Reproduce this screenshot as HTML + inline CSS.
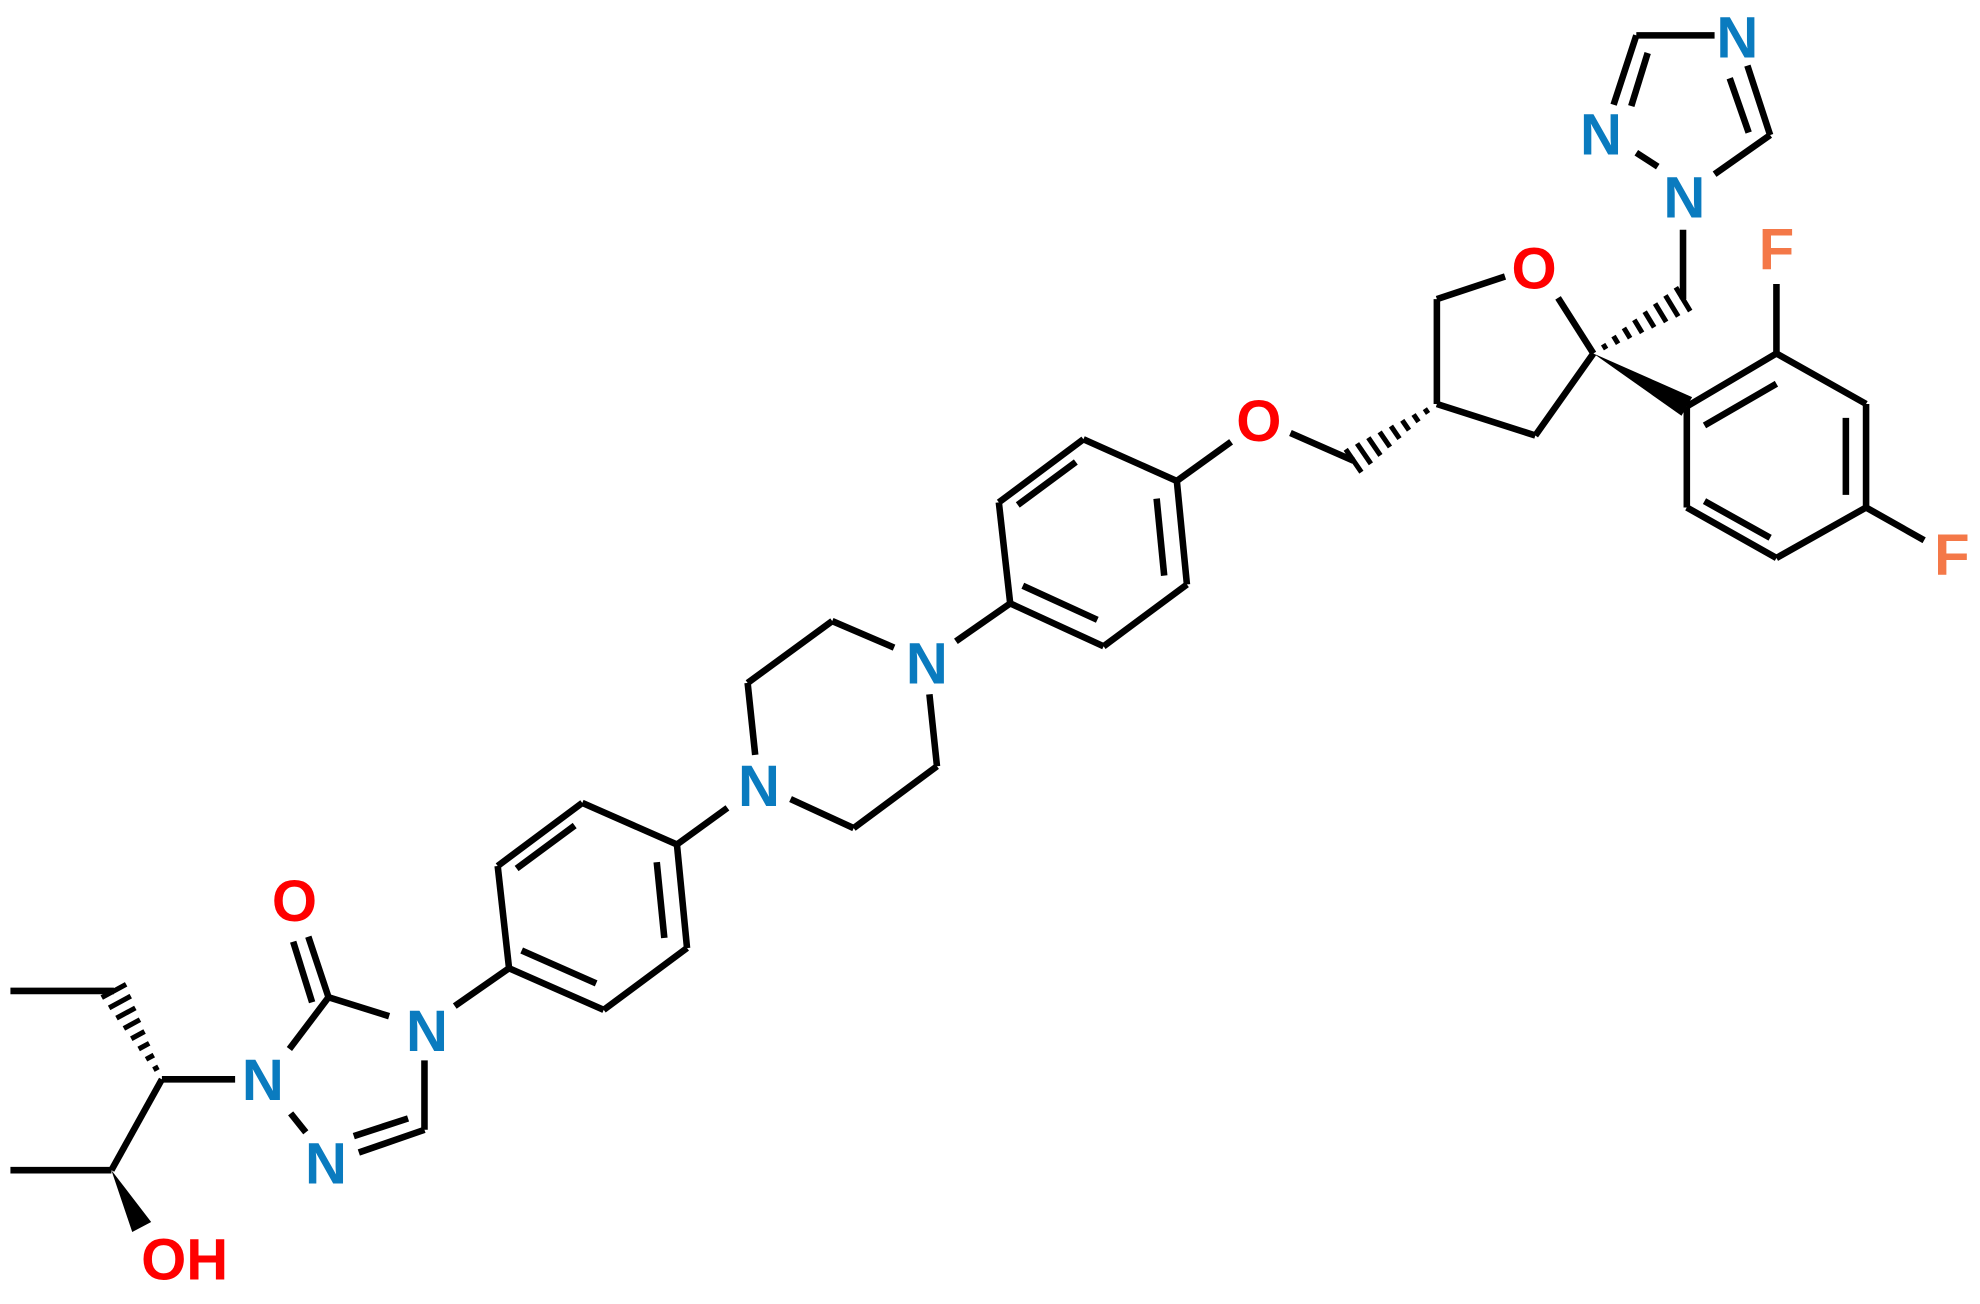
<!DOCTYPE html>
<html><head><meta charset="utf-8"><style>
html,body{margin:0;padding:0;background:#fff;}
svg{display:block;}
text{font-family:"Liberation Sans",sans-serif;font-weight:bold;font-size:46px;text-anchor:middle;dominant-baseline:central;}
.N{fill:#0a7bbf}.O{fill:#f00}.F{fill:#f47848}
</style></head><body>
<svg width="1980" height="1304" viewBox="0 0 1568 1033" xmlns="http://www.w3.org/2000/svg">
<g stroke="#000" stroke-width="5.2" fill="none">
<line x1="1296" y1="28" x2="1358" y2="28"/>
<line x1="1384" y1="52" x2="1402" y2="107"/>
<line x1="1370" y1="62" x2="1385" y2="105"/>
<line x1="1402" y1="107" x2="1358" y2="138"/>
<line x1="1313" y1="132" x2="1296" y2="121"/>
<line x1="1296" y1="28" x2="1278" y2="83"/>
<line x1="1305" y1="42" x2="1292" y2="84"/>
<line x1="1333" y1="182" x2="1333" y2="237"/>
<line x1="1138" y1="237" x2="1192" y2="219"/>
<line x1="1234" y1="236" x2="1262" y2="280"/>
<line x1="1262" y1="280" x2="1216" y2="345"/>
<line x1="1216" y1="345" x2="1138" y2="320"/>
<line x1="1138" y1="320" x2="1138" y2="237"/>
<line x1="1336" y1="322" x2="1407" y2="280"/>
<line x1="1350" y1="337" x2="1407" y2="304"/>
<line x1="1407" y1="280" x2="1478" y2="320"/>
<line x1="1478" y1="320" x2="1478" y2="402"/>
<line x1="1462" y1="331" x2="1462" y2="392"/>
<line x1="1478" y1="402" x2="1407" y2="442"/>
<line x1="1407" y1="442" x2="1336" y2="402"/>
<line x1="1402" y1="426" x2="1350" y2="397"/>
<line x1="1336" y1="402" x2="1336" y2="322"/>
<line x1="1407" y1="280" x2="1407" y2="225"/>
<line x1="1478" y1="402" x2="1524" y2="428"/>
<line x1="1072" y1="365" x2="1022" y2="343"/>
<line x1="975" y1="350" x2="932" y2="381"/>
<line x1="932" y1="381" x2="858" y2="348"/>
<line x1="858" y1="348" x2="791" y2="398"/>
<line x1="852" y1="366" x2="806" y2="400"/>
<line x1="791" y1="398" x2="800" y2="478"/>
<line x1="800" y1="478" x2="874" y2="512"/>
<line x1="810" y1="464" x2="869" y2="491"/>
<line x1="874" y1="512" x2="940" y2="463"/>
<line x1="940" y1="463" x2="932" y2="381"/>
<line x1="922" y1="456" x2="916" y2="395"/>
<line x1="800" y1="478" x2="757" y2="508"/>
<line x1="708" y1="513" x2="659" y2="492"/>
<line x1="659" y1="492" x2="592" y2="541"/>
<line x1="592" y1="541" x2="598" y2="598"/>
<line x1="626" y1="633" x2="676" y2="656"/>
<line x1="676" y1="656" x2="742" y2="607"/>
<line x1="742" y1="607" x2="736" y2="550"/>
<line x1="576" y1="640" x2="536" y2="669"/>
<line x1="536" y1="669" x2="461" y2="636"/>
<line x1="461" y1="636" x2="394" y2="686"/>
<line x1="455" y1="654" x2="409" y2="688"/>
<line x1="394" y1="686" x2="403" y2="767"/>
<line x1="403" y1="767" x2="478" y2="800"/>
<line x1="413" y1="753" x2="472" y2="779"/>
<line x1="478" y1="800" x2="544" y2="751"/>
<line x1="544" y1="751" x2="536" y2="669"/>
<line x1="526" y1="743" x2="520" y2="683"/>
<line x1="403" y1="767" x2="360" y2="797"/>
<line x1="308" y1="805" x2="260" y2="790"/>
<line x1="260" y1="790" x2="244" y2="742"/>
<line x1="247" y1="794" x2="232" y2="746"/>
<line x1="260" y1="790" x2="229" y2="831"/>
<line x1="230" y1="882" x2="242" y2="897"/>
<line x1="284" y1="913" x2="336" y2="895"/>
<line x1="280" y1="900" x2="323" y2="886"/>
<line x1="336" y1="895" x2="336" y2="840"/>
<line x1="186" y1="855" x2="128" y2="855"/>
<line x1="90" y1="785" x2="8" y2="785"/>
<line x1="128" y1="855" x2="88" y2="927"/>
<line x1="88" y1="927" x2="8" y2="927"/>
</g>
<g id="w"></g>
<text x="1376" y="30" class="N">N</text>
<text x="1268" y="107" class="N">N</text>
<text x="1334" y="157" class="N">N</text>
<text x="1215" y="213" class="O">O</text>
<text x="1407" y="198" class="F">F</text>
<text x="1546" y="440" class="F">F</text>
<text x="997" y="334" class="O">O</text>
<text x="734" y="526" class="N">N</text>
<text x="601" y="623" class="N">N</text>
<text x="338" y="817" class="N">N</text>
<text x="233" y="714" class="O">O</text>
<text x="208" y="856" class="N">N</text>
<text x="258" y="922" class="N">N</text>
<text x="146" y="998" class="O">OH</text>
</svg>
<script>
var g=document.getElementById('w'),NS="http://www.w3.org/2000/svg";
function hash(x1,y1,x2,y2,w,n){var dx=x2-x1,dy=y2-y1,L=Math.hypot(dx,dy),px=-dy/L,py=dx/L;
for(var i=1;i<=n;i++){var t=i/n,cx=x1+dx*t,cy=y1+dy*t,h=w*t/2+1;var l=document.createElementNS(NS,'line');
l.setAttribute('x1',cx+px*h);l.setAttribute('y1',cy+py*h);l.setAttribute('x2',cx-px*h);l.setAttribute('y2',cy-py*h);
l.setAttribute('stroke','#000');l.setAttribute('stroke-width','4');g.appendChild(l);}}
function wedge(x1,y1,x2,y2,w){var dx=x2-x1,dy=y2-y1,L=Math.hypot(dx,dy),px=-dy/L*w/2,py=dx/L*w/2;
var p=document.createElementNS(NS,'polygon');p.setAttribute('points',x1+','+y1+' '+(x2+px)+','+(y2+py)+' '+(x2-px)+','+(y2-py));g.appendChild(p);}
hash(1262,280,1333,237,20,8);
hash(1138,320,1072,365,20,8);
hash(128,855,90,785,20,8);
wedge(1262,280,1336,322,17);
wedge(88,927,112,972,17);
</script>
</body></html>
